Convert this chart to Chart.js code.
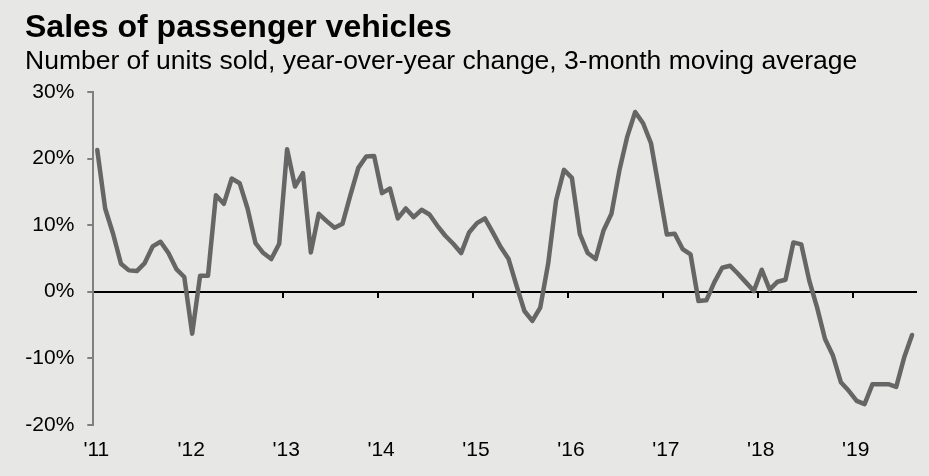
<!DOCTYPE html>
<html>
<head>
<meta charset="utf-8">
<title>Sales of passenger vehicles</title>
<script src="https://cdn.jsdelivr.net/npm/chart.js@4.4.1/dist/chart.umd.min.js"></script>
<style>
  html, body { margin: 0; padding: 0; background: #e7e7e6; }
  #wrap { width: 929px; height: 476px; }
  canvas { display: block; }
</style>
</head>
<body>
<div id="wrap"><canvas id="chart" width="929" height="476"></canvas></div>
<script>
// Year tick labels (one per January, starting 2011)
const yearLabels = ["'11", "'12", "'13", "'14", "'15", "'16", "'17", "'18", "'19"];

// Monthly YoY change in passenger vehicle sales, %, 3-month moving average (Jan 2011 - Aug 2019)
const yoy2011 = [21.3, 12.5, 8.7, 4.2, 3.2, 3.1, 4.3, 6.8, 7.5, 5.8, 3.4, 2.2];
const yoy2012 = [-6.3, 2.4, 2.4, 14.5, 13.2, 17.0, 16.3, 12.5, 7.3, 5.8, 4.9, 7.2];
const yoy2013 = [21.4, 15.8, 17.8, 5.9, 11.7, 10.6, 9.6, 10.2, 14.5, 18.6, 20.3, 20.4];
const yoy2014 = [14.8, 15.5, 11.0, 12.5, 11.2, 12.3, 11.6, 9.9, 8.4, 7.2, 5.8, 8.9];
const yoy2015 = [10.3, 11.0, 8.9, 6.7, 4.9, 0.9, -2.9, -4.4, -2.4, 4.2, 13.7, 18.3];
const yoy2016 = [17.1, 8.7, 5.8, 4.9, 9.2, 11.7, 18.2, 23.3, 27.0, 25.3, 22.3, 15.5];
const yoy2017 = [8.6, 8.7, 6.4, 5.6, -1.4, -1.3, 1.4, 3.6, 3.9, 2.7, 1.4, 0.1];
const yoy2018 = [3.3, 0.3, 1.5, 1.8, 7.4, 7.1, 1.7, -2.4, -7.1, -9.6, -13.6, -14.9];
const yoy2019 = [-16.4, -16.9, -13.9, -13.9, -13.9, -14.3, -9.9, -6.5];

const yoyChange = [].concat(yoy2011, yoy2012, yoy2013, yoy2014, yoy2015, yoy2016, yoy2017, yoy2018, yoy2019);

// Axis range: months since Jan 2011, and percent bounds
const monthsShown = 104;
const yMin = -20, yMax = 30, yStep = 10;

const FONT = '"Liberation Sans", Arial, Helvetica, sans-serif';

// each monthly value sits in the middle of its month slot
const points = yoyChange.map((v, i) => ({ x: i + 0.5, y: v }));

new Chart(document.getElementById('chart').getContext('2d'), {
  type: 'line',
  data: {
    datasets: [{
      data: points,
      xAxisID: 'x',
      yAxisID: 'y',
      borderColor: '#666666',
      borderWidth: 4.5,
      borderJoinStyle: 'round',
      borderCapStyle: 'round',
      pointRadius: 0,
      tension: 0,
      clip: false
    }]
  },
  options: {
    responsive: false,
    animation: false,
    devicePixelRatio: 1,
    events: [],
    layout: { padding: { left: 25, right: 13, top: 0, bottom: 0 } },
    plugins: {
      legend: { display: false },
      tooltip: { enabled: false },
      title: {
        display: true,
        text: 'Sales of passenger vehicles',
        align: 'start',
        color: '#000000',
        font: { family: FONT, size: 32, weight: 'bold', lineHeight: 1.1 },
        padding: { top: 11, bottom: 0 }
      },
      subtitle: {
        display: true,
        text: 'Number of units sold, year-over-year change, 3-month moving average',
        align: 'start',
        color: '#000000',
        font: { family: FONT, size: 26.5, weight: 'normal', lineHeight: 1.2 },
        padding: { top: 0, bottom: 14 }
      }
    },
    scales: {
      // zero line with year tick marks
      x: {
        type: 'linear',
        position: { y: 0 },
        min: 0,
        max: monthsShown,
        border: { display: true, color: '#000000', width: 2 },
        grid: { drawOnChartArea: false, drawTicks: true, tickLength: 5, color: '#000000', lineWidth: 2 },
        ticks: { display: false, stepSize: 12, includeBounds: false, autoSkip: false },
        afterFit: (scale) => { scale.height = 0; }
      },
      // year labels along the bottom
      xb: {
        type: 'linear',
        position: 'bottom',
        min: 0,
        max: monthsShown,
        border: { display: false },
        grid: { display: false, drawTicks: false, tickLength: 0 },
        ticks: {
          stepSize: 12,
          includeBounds: false,
          autoSkip: false,
          maxRotation: 0,
          padding: 13,
          labelOffset: 3,
          color: '#000000',
          font: { family: FONT, size: 21 },
          callback: (v) => yearLabels[Math.round(v / 12)]
        }
      },
      y: {
        type: 'linear',
        position: 'left',
        min: yMin,
        max: yMax,
        border: { display: true, color: '#808080', width: 2 },
        grid: { drawOnChartArea: false, drawTicks: true, tickLength: 6, color: '#808080', lineWidth: 2 },
        ticks: {
          stepSize: yStep,
          padding: 13,
          color: '#000000',
          font: { family: FONT, size: 21 },
          callback: (v) => v + '%'
        },
        afterFit: (scale) => { scale.width = 68.3; }
      }
    }
  }
});
</script>
</body>
</html>
